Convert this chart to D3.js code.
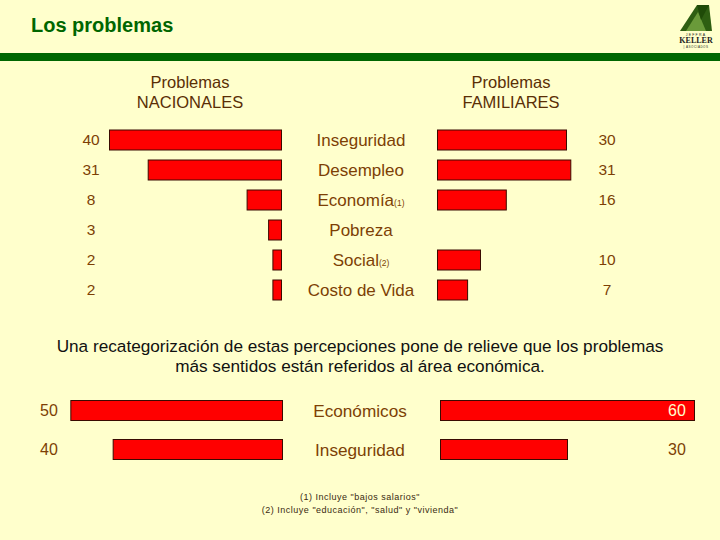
<!DOCTYPE html>
<html>
<head>
<meta charset="utf-8">
<script src="https://cdn.jsdelivr.net/npm/d3@7"></script>
<style>
  html, body { margin: 0; padding: 0; background: #FFFFCC; }
  svg { display: block; }
</style>
</head>
<body>
<script>
// ---- data ----
const categories = ["Inseguridad", "Desempleo", "Economía", "Pobreza", "Social", "Costo de Vida"];
const categoryNotes = ["", "", "(1)", "", "(2)", ""];
const nacionales = [40, 31, 8, 3, 2, 2];
const familiares = [30, 31, 16, null, 10, 7];

const summaryCategories = ["Económicos", "Inseguridad"];
const summaryNacionales = [50, 40];
const summaryFamiliares = [60, 30];

const footnotes = ["(1) Incluye \"bajos salarios\"", "(2) Incluye \"educación\", \"salud\" y \"vivienda\""];
const paragraph = ["Una recategorización de estas percepciones pone de relieve que los problemas",
                   "más sentidos están referidos al área económica."];

// ---- setup ----
const W = 720, H = 540;
const BG = "#FFFFCC", GREEN = "#006600", BROWN = "#7d3f05", RED = "#FF0000", EDGE = "#3a0a00";
const FONT = "Liberation Sans, Arial, sans-serif";

const svg = d3.select("body").append("svg").attr("width", W).attr("height", H);
svg.append("rect").attr("width", W).attr("height", H).attr("fill", BG);

// title + band
svg.append("text").attr("x", 31).attr("y", 32).attr("font-family", FONT)
  .attr("font-size", 20).attr("font-weight", "bold").attr("fill", GREEN).text("Los problemas");
svg.append("rect").attr("x", 0).attr("y", 53).attr("width", W).attr("height", 8).attr("fill", GREEN);

// logo (approximation)
const logo = svg.append("g");
logo.append("path").attr("d", "M680,31 L697,5 L709,5 L712,31 Z").attr("fill", "#2e5e12");
logo.append("path").attr("d", "M686,31 L698,12 L706,31 Z").attr("fill", "#6a9a3a");
logo.append("path").attr("d", "M697,5 L709,5 L701,20 Z").attr("fill", "#1f4a08");
logo.append("text").attr("x", 696).attr("y", 36).attr("text-anchor", "middle").attr("font-family", FONT)
  .attr("font-size", 3.5).attr("letter-spacing", 1.2).attr("fill", "#222").text("JEFFRA");
logo.append("text").attr("x", 696).attr("y", 43).attr("text-anchor", "middle").attr("font-family", "Liberation Serif, serif")
  .attr("font-size", 8).attr("font-weight", "bold").attr("fill", "#222").text("KELLER");
logo.append("text").attr("x", 696).attr("y", 47.5).attr("text-anchor", "middle").attr("font-family", FONT)
  .attr("font-size", 3).attr("letter-spacing", 0.5).attr("fill", "#222").text("| ASOCIADOS");

// headers
const hdr = [["Problemas", "NACIONALES", 190], ["Problemas", "FAMILIARES", 511]];
hdr.forEach(h => {
  const t = svg.append("text").attr("text-anchor", "middle").attr("font-family", FONT)
    .attr("font-size", 16.5).attr("fill", "#5a2e05");
  t.append("tspan").attr("x", h[2]).attr("y", 88).text(h[0]);
  t.append("tspan").attr("x", h[2]).attr("y", 108).text(h[1]);
});

// ---- top chart ----
const xTop = d3.scaleLinear().domain([0, 40]).range([0, 172]);
const yTop = d3.scalePoint().domain(categories).range([140, 290]);
const BAR_H = 20;
const LEFT_END = 281.5, RIGHT_START = 437.5;
const rows = categories.map((c, i) => ({ c, note: categoryNotes[i], n: nacionales[i], f: familiares[i] }));

svg.append("g").selectAll("rect").data(rows).join("rect")
  .attr("x", d => LEFT_END - xTop(d.n)).attr("y", d => yTop(d.c) - BAR_H / 2)
  .attr("width", d => xTop(d.n)).attr("height", BAR_H)
  .attr("fill", RED).attr("stroke", EDGE).attr("stroke-width", 1);

svg.append("g").selectAll("rect").data(rows.filter(d => d.f != null)).join("rect")
  .attr("x", RIGHT_START).attr("y", d => yTop(d.c) - BAR_H / 2)
  .attr("width", d => xTop(d.f)).attr("height", BAR_H)
  .attr("fill", RED).attr("stroke", EDGE).attr("stroke-width", 1);

svg.append("g").selectAll("text").data(rows).join("text")
  .attr("x", 91).attr("y", d => yTop(d.c) + 5).attr("text-anchor", "middle")
  .attr("font-family", FONT).attr("font-size", 15.5).attr("fill", BROWN).text(d => d.n);

svg.append("g").selectAll("text").data(rows.filter(d => d.f != null)).join("text")
  .attr("x", 607).attr("y", d => yTop(d.c) + 5).attr("text-anchor", "middle")
  .attr("font-family", FONT).attr("font-size", 15.5).attr("fill", BROWN).text(d => d.f);

const catT = svg.append("g").selectAll("text").data(rows).join("text")
  .attr("x", 361).attr("y", d => yTop(d.c) + 6).attr("text-anchor", "middle")
  .attr("font-family", FONT).attr("font-size", 17).attr("fill", BROWN);
catT.append("tspan").text(d => d.c);
catT.filter(d => d.note).append("tspan").attr("font-size", 8.5).text(d => d.note);

// paragraph
paragraph.forEach((line, i) => {
  svg.append("text").attr("x", 360).attr("y", 352 + i * 20).attr("text-anchor", "middle")
    .attr("font-family", FONT).attr("font-size", 17.2).attr("fill", "#111").text(line);
});

// ---- summary chart ----
const xSum = d3.scaleLinear().domain([0, 60]).range([0, 254]);
const ySum = d3.scalePoint().domain(summaryCategories).range([410.5, 449.5]);
const sRows = summaryCategories.map((c, i) => ({ c, n: summaryNacionales[i], f: summaryFamiliares[i] }));
const S_LEFT_END = 282.5, S_RIGHT_START = 440.5;

svg.append("g").selectAll("rect").data(sRows).join("rect")
  .attr("x", d => S_LEFT_END - xSum(d.n)).attr("y", d => ySum(d.c) - BAR_H / 2)
  .attr("width", d => xSum(d.n)).attr("height", BAR_H)
  .attr("fill", RED).attr("stroke", EDGE).attr("stroke-width", 1);

svg.append("g").selectAll("rect").data(sRows).join("rect")
  .attr("x", S_RIGHT_START).attr("y", d => ySum(d.c) - BAR_H / 2)
  .attr("width", d => xSum(d.f)).attr("height", BAR_H)
  .attr("fill", RED).attr("stroke", EDGE).attr("stroke-width", 1);

svg.append("g").selectAll("text").data(sRows).join("text")
  .attr("x", 49).attr("y", d => ySum(d.c) + 5).attr("text-anchor", "middle")
  .attr("font-family", FONT).attr("font-size", 16).attr("fill", BROWN).text(d => d.n);

svg.append("g").selectAll("text").data(sRows).join("text")
  .attr("x", 677).attr("y", d => ySum(d.c) + 5).attr("text-anchor", "middle")
  .attr("font-family", FONT).attr("font-size", 16)
  .attr("fill", d => (S_RIGHT_START + xSum(d.f) > 690 ? "#FFFFCC" : BROWN)).text(d => d.f);

svg.append("g").selectAll("text").data(sRows).join("text")
  .attr("x", 360).attr("y", d => ySum(d.c) + 6).attr("text-anchor", "middle")
  .attr("font-family", FONT).attr("font-size", 17.2).attr("fill", BROWN).text(d => d.c);

// footnotes
footnotes.forEach((line, i) => {
  svg.append("text").attr("x", 360).attr("y", 500 + i * 13).attr("text-anchor", "middle")
    .attr("font-family", FONT).attr("font-size", 9).attr("letter-spacing", 0.5)
    .attr("fill", "#3a2a10").text(line);
});
</script>
</body>
</html>
